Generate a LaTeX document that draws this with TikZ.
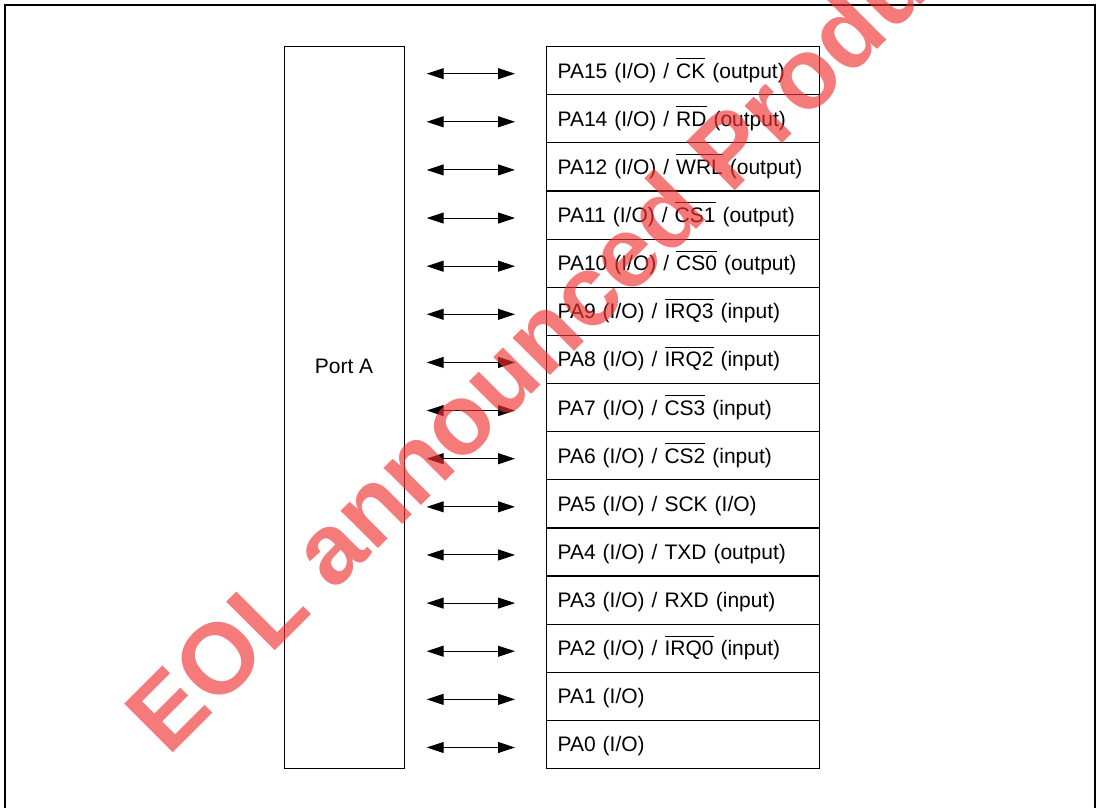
\documentclass[tikz,border=0pt]{standalone}
\usepackage{fontspec}
\setmainfont{Liberation Sans}
\usetikzlibrary{arrows.meta, positioning, calc}
\definecolor{wmark}{RGB}{240,50,50}
\newcommand{\negsig}[1]{$\overline{\mbox{#1}\rule{0pt}{18.5pt}}$}

\begin{document}
\begin{tikzpicture}[x=1pt, y=-1pt,
    font=\fontsize{21}{25}\selectfont,
    portbox/.style={draw, line width=1.2pt, minimum width=120pt,
      minimum height=722pt, inner sep=0pt},
    pinbox/.style={draw, line width=1.2pt, text width=251pt,
      minimum height=48.13pt, inner xsep=11pt, inner ysep=0pt,
      text height=17pt, text depth=2pt, align=left, anchor=north west},
    pinarrow/.style={{Triangle[length=17pt,width=11pt]}-{Triangle[length=17pt,width=11pt]},
      line width=1pt}]
  \useasboundingbox (0,0) rectangle (1100,808);
  % outer frame (open at the bottom)
  \draw[line width=2pt] (4.5,820) -- (4.5,5) -- (1095,5) -- (1095,820);
  % port block
  \node[portbox, anchor=north west] (port) at (283.5,46) {};
  \node (portname) at (344,366) {Port A};
  % pin functions
  \foreach \i/\txt in {0/{PA15 (I/O) / \negsig{CK} (output)},
      1/{PA14 (I/O) / \negsig{RD} (output)},
      2/{PA12 (I/O) / \negsig{WRL} (output)},
      3/{PA11 (I/O) / \negsig{CS1} (output)},
      4/{PA10 (I/O) / \negsig{CS0} (output)},
      5/{PA9 (I/O) / \negsig{IRQ3} (input)},
      6/{PA8 (I/O) / \negsig{IRQ2} (input)},
      7/{PA7 (I/O) / \negsig{CS3} (input)},
      8/{PA6 (I/O) / \negsig{CS2} (input)},
      9/{PA5 (I/O) / SCK (I/O)},
      10/{PA4 (I/O) / TXD (output)},
      11/{PA3 (I/O) / RXD (input)},
      12/{PA2 (I/O) / \negsig{IRQ0} (input)},
      13/{PA1 (I/O)},
      14/{PA0 (I/O)}} {
    \node[pinbox] (pin\i) at (546,46+48.13*\i) {\txt};
    \draw[pinarrow] ($(port.east |- pin\i.west)+(22,3)$) -- ($(pin\i.west)+(-31,3)$);
  }
  % watermark
  \node[wmark, opacity=0.65, rotate=45, inner sep=0pt,
        font=\fontsize{100}{100}\selectfont\bfseries] (eol) at (558,318)
    {EOL announced Product};
\end{tikzpicture}
\end{document}
